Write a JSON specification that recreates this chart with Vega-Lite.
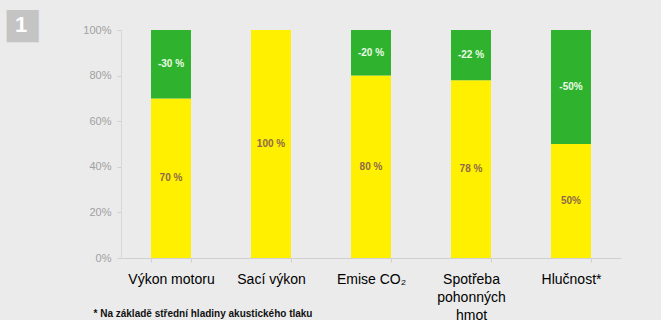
{
  "$schema": "https://vega.github.io/schema/vega-lite/v6.json",
  "width": 500,
  "height": 228,
  "autosize": "none",
  "padding": {"left": 121, "top": 30, "right": 40, "bottom": 62},
  "background": "#ebebeb",
  "config": {"view": {"stroke": null}, "font": "Liberation Sans"},
  "title": {"text": "1", "anchor": "start", "frame": "group", "orient": "top", "color": "#ffffff", "fontSize": 22, "fontWeight": "bold", "font": "Liberation Sans", "dx": -106, "offset": 0, "dy": 35},
  "data": {"values": [
    {"kat": "Výkon motoru", "part": "zbytek", "v": 70, "label": "70 %", "o": 1},
    {"kat": "Výkon motoru", "part": "úspora", "v": 30, "label": "-30 %", "o": 2},
    {"kat": "Sací výkon", "part": "zbytek", "v": 100, "label": "100 %", "o": 1},
    {"kat": "Emise CO₂", "part": "zbytek", "v": 80, "label": "80 %", "o": 1},
    {"kat": "Emise CO₂", "part": "úspora", "v": 20, "label": "-20 %", "o": 2},
    {"kat": "Spotřeba|pohonných|hmot", "part": "zbytek", "v": 78, "label": "78 %", "o": 1},
    {"kat": "Spotřeba|pohonných|hmot", "part": "úspora", "v": 22, "label": "-22 %", "o": 2},
    {"kat": "Hlučnost*", "part": "zbytek", "v": 50, "label": "50%", "o": 1},
    {"kat": "Hlučnost*", "part": "úspora", "v": 50, "label": "-50%", "o": 2}
  ]},
  "transform": [
    {"stack": "v", "groupby": ["kat"], "sort": [{"field": "o"}], "as": ["v0", "v1"]},
    {"calculate": "(datum.v0 + datum.v1) / 2", "as": "mid"}
  ],
  "encoding": {
    "x": {
      "field": "kat", "type": "nominal", "sort": null,
      "scale": {"paddingInner": 0.6, "paddingOuter": 0.3},
      "axis": {
        "title": "* Na základě střední hladiny akustického tlaku",
        "titleFontSize": 10, "titleFontWeight": 600, "titleColor": "#111111",
        "titleX": -28, "titleY": 55, "titleAlign": "left", "titleAnchor": "start", "titleBaseline": "middle",
        "labelExpr": "split(datum.label, '|')",
        "labelAngle": 0, "labelFontSize": 14, "labelColor": "#000000", "labelPadding": 10,
        "labelLineHeight": 18, "labelLimit": 200, "labelOverlap": false, "labelBaseline": "top",
        "tickBand": "extent", "tickSize": 4, "tickColor": "#d0d0d0", "domainColor": "#d0d0d0"
      }
    }
  },
  "layer": [
    {
      "mark": {"type": "bar"},
      "encoding": {
        "y": {"field": "v0", "type": "quantitative", "scale": {"domain": [0, 100]},
          "axis": {
            "values": [0, 20, 40, 60, 80, 100],
            "labelExpr": "datum.value + '%'",
            "labelFontSize": 11, "labelColor": "#a0a0a0", "labelPadding": 6,
            "tickSize": 4, "tickColor": "#d0d0d0", "domainColor": "#d8d8d8", "grid": false,
            "title": "■", "titleColor": "#c4c4c4", "titleFontSize": 42, "titleFontWeight": "normal", "titleFont": "DejaVu Sans",
            "titleAngle": 0, "titleX": -99, "titleY": -7, "titleAlign": "center", "titleBaseline": "middle"
          }
        },
        "y2": {"field": "v1"},
        "color": {"field": "part", "type": "nominal", "scale": {"domain": ["zbytek", "úspora"], "range": ["#fff000", "#2fb32f"]}, "legend": null}
      }
    },
    {
      "mark": {"type": "text", "fontSize": 10, "fontWeight": "bold"},
      "encoding": {
        "y": {"field": "mid", "type": "quantitative"},
        "text": {"field": "label"},
        "color": {"field": "part", "type": "nominal", "scale": {"domain": ["zbytek", "úspora"], "range": ["#8e6a4a", "#eafbe6"]}, "legend": null}
      }
    }
  ],
  "resolve": {"scale": {"color": "independent"}}
}
